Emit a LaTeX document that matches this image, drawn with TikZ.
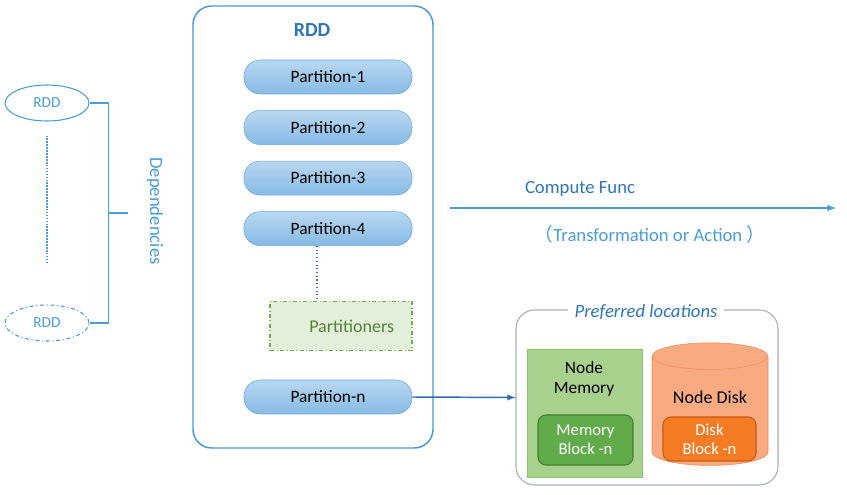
\documentclass[tikz,border=0pt]{standalone}
\usepackage{fontspec}
\setmainfont{Carlito}
\newfontfamily\cjk{Noto Sans CJK SC}
\usepackage{xcolor}
\usepackage{tikz}
\usetikzlibrary{shapes,arrows,positioning,calc,shapes.geometric}

\definecolor{rddblue}{HTML}{4A96D2}
\definecolor{titleblue}{HTML}{2E75B6}
\definecolor{lightblue}{HTML}{4A9DD6}
\definecolor{linkblue}{HTML}{2F6FB0}
\definecolor{parttop}{HTML}{B8D8F2}
\definecolor{partbot}{HTML}{86BAE5}
\definecolor{partedge}{HTML}{6FA6D6}
\definecolor{partfill}{HTML}{E2EFDA}
\definecolor{partgreen}{HTML}{70AD47}
\definecolor{partgreentext}{HTML}{548235}
\definecolor{graybox}{HTML}{A6AEBD}
\definecolor{memfill}{HTML}{A9D18E}
\definecolor{memedge}{HTML}{8CBF6E}
\definecolor{blockgreen}{HTML}{62AB4B}
\definecolor{blockgreenedge}{HTML}{3F7F2E}
\definecolor{diskfill}{HTML}{F8AA80}
\definecolor{diskedge}{HTML}{F08C58}
\definecolor{diskblock}{HTML}{F57C25}
\definecolor{diskblockedge}{HTML}{C85A14}

\begin{document}
\begin{tikzpicture}[x=0.75pt,y=-0.75pt,
  partbox/.style={draw=partedge,rounded corners=12pt,top color=parttop,bottom color=partbot,
    minimum width=126pt,minimum height=25.5pt,font=\fontsize{13}{15}\selectfont},
  rddnode/.style={draw=lightblue,ellipse,thick,minimum width=63pt,minimum height=27pt,
    text=lightblue,font=\fontsize{11.5}{13}\selectfont},
  blockbox/.style={rounded corners=6pt,thick,text=white,align=center,
    font=\fontsize{12.5}{14.5}\selectfont}]
\useasboundingbox (0,0) rectangle (847,495);

% Dependencies
\node[rddnode] (dep1) at (47,103) {RDD};
\node[rddnode,dash dot] (depn) at (47,323) {RDD};
\draw[lightblue,densely dotted,very thick] ([yshift=-10.5pt]dep1.south) -- ([yshift=31.5pt]depn.north);
\coordinate (bracetip) at (128,213);
\draw[lightblue,thick] (dep1.east) -- ++(19,0) coordinate (bracetop) |- (depn.east);
\draw[lightblue,thick] (bracetop |- bracetip) -- (bracetip);
\node[rotate=-90,text=lightblue,font=\fontsize{14}{16}\selectfont] (deplabel) at (155,211) {Dependencies};

% RDD with partitions
\node[draw=rddblue,line width=1.1pt,rounded corners=14pt,minimum width=180pt,minimum height=331.5pt] (rdd) at (313,227) {};
\node[text=titleblue,font=\fontsize{15}{17}\selectfont\bfseries] (rddtitle) at (312,30) {RDD};
\node[partbox] (p1) at (328,77) {Partition-1};
\node[partbox,below=12pt of p1] (p2) {Partition-2};
\node[partbox,below=12pt of p2] (p3) {Partition-3};
\node[partbox,below=12pt of p3] (p4) {Partition-4};
\node[partbox] (pn) at (328,397) {Partition-n};
\node[draw=partgreen,dash dot,thick,fill=partfill,minimum width=106.5pt,minimum height=36.75pt] (partnr) at (341,326) {};
\node[text=partgreentext,font=\fontsize{13.5}{15}\selectfont] (partnrtext) at ([xshift=8pt]partnr.center) {Partitioners};
\draw[linkblue,dotted,thick] ([xshift=-8.25pt]p4.south) -- ([xshift=-8.25pt]p4.south |- partnr.north);

% compute function
\coordinate (cfstart) at (450,208);
\coordinate (cfend) at (836,208);
\draw[-latex,lightblue,line width=1.2pt] (cfstart) -- (cfend);
\node[text=titleblue,font=\fontsize{14}{16}\selectfont] (cflabel) at (580,189) {Compute Func};
\node[text=lightblue,font=\fontsize{14}{16}\selectfont] (cfnote) at (650,234) {{\cjk （}Transformation or Action {\cjk ）}};

% preferred locations
\node[draw=graybox,thick,rounded corners=14pt,minimum width=196.5pt,minimum height=131.25pt] (prefbox) at (647,397.5) {};
\node[fill=white,text=titleblue,inner xsep=5pt,font=\fontsize{14}{16}\selectfont\itshape] (preftitle) at (646,312) {Preferred locations};
\node[draw=memedge,fill=memfill,minimum width=86.25pt,minimum height=96pt] (nodemem) at (584.5,413) {};
\node[align=center,font=\fontsize{13}{15.5}\selectfont] (nodememtext) at (584,379) {Node\\Memory};
\node[blockbox,draw=blockgreenedge,fill=blockgreen,minimum width=71.25pt,minimum height=37.5pt] (memblock) at (585.5,440) {Memory\\Block -n};
\node[cylinder,shape border rotate=90,aspect=3,draw=diskedge,fill=diskfill,minimum width=87pt,minimum height=92pt] (nodedisk) at (710,413.5) {};
\node[font=\fontsize{13.5}{15}\selectfont] (nodedisktext) at (710,397) {Node Disk};
\node[blockbox,draw=diskblockedge,fill=diskblock,minimum width=69.75pt,minimum height=33pt] (diskblock) at (709.5,439) {Disk\\Block -n};

\draw[-latex,linkblue,line width=1.1pt] (pn.east) -- (prefbox.west);
\end{tikzpicture}
\end{document}
